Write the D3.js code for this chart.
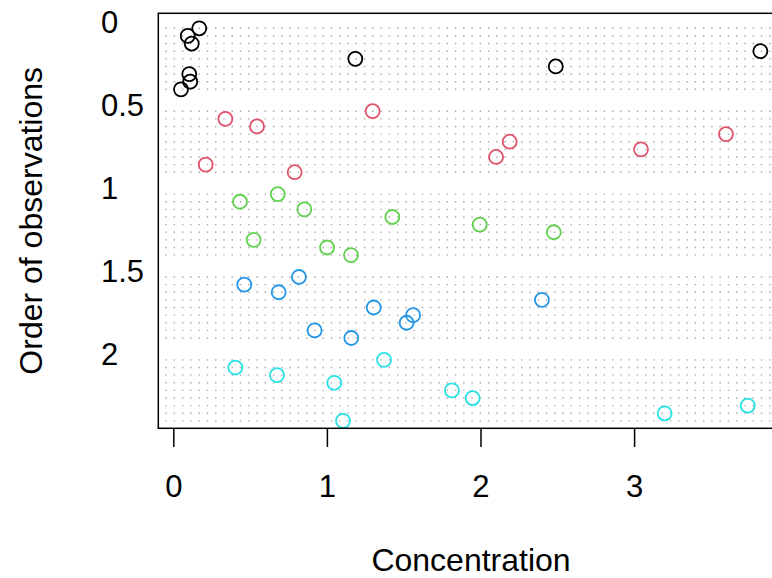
<!DOCTYPE html>
<html>
<head>
<meta charset="utf-8">
<script src="https://cdn.jsdelivr.net/npm/d3@7"></script>
<style>
  html, body { margin: 0; padding: 0; background: #fff; }
  svg { display: block; }
  text { font-family: "Liberation Sans", Arial, Helvetica, sans-serif; fill: #000; }
</style>
</head>
<body>
<svg id="chart" width="772" height="578"></svg>
<script>
// ---- data ----
const groups = ["1", "2", "3", "4", "5"];
const groupColors = ["#000000", "#DF536B", "#61D04F", "#2297E6", "#28E2E5"];
const groupStarts = [0, 0.5, 1, 1.5, 2];
const rowPositions = [0.038, 0.084, 0.130, 0.176, 0.222, 0.268, 0.314, 0.360, 0.406];
const conc1 = [0.169, 0.094, 0.120, 3.822, 1.185, 2.490, 0.104, 0.110, 0.050];
const conc2 = [1.298, 0.339, 0.545, 3.598, 2.190, 3.045, 2.101, 0.211, 0.790];
const conc3 = [0.680, 0.434, 0.853, 1.426, 1.995, 2.477, 0.523, 1.001, 1.157];
const conc4 = [0.818, 0.462, 0.686, 2.400, 1.305, 1.561, 1.519, 0.920, 1.159];
const conc5 = [1.372, 0.404, 0.675, 1.048, 1.814, 1.949, 3.740, 3.199, 1.105];
const xTicks = [0, 1, 2, 3];
const yTicks = [0, 0.5, 1, 1.5, 2];
const xTitle = "Concentration";
const yTitle = "Order of observations";

(function () {
const series = [conc1, conc2, conc3, conc4, conc5];
const points = [];
series.forEach((vals, g) => vals.forEach((v, r) => points.push({ g, x: v, y: groupStarts[g] + rowPositions[r] })));
const gridRows = [];
groupStarts.forEach(s => rowPositions.forEach(p => gridRows.push(s + p)));

// ---- layout ----
const svg = d3.select("#chart");
const pL = 158.3, pR = 783.7, pT = 13.3, pB = 428.3;
const x = d3.scaleLinear().domain([-0.0977, 3.974]).range([pL, pR]);
const y = d3.scaleLinear().domain([-0.0525, 2.4505]).range([pT, pB]);
const FS = 31, FT = 32;

// dotted grid
svg.append("g").selectAll("line").data(gridRows).join("line")
  .attr("x1", 165.4).attr("x2", pR)
  .attr("y1", d => y(d)).attr("y2", d => y(d))
  .attr("stroke", "#a8a8a8").attr("stroke-width", 1.4)
  .attr("stroke-dasharray", "1.4,6.87");

// points
svg.append("g").selectAll("circle").data(points).join("circle")
  .attr("cx", d => x(d.x)).attr("cy", d => y(d.y)).attr("r", 7.0)
  .attr("fill", "none").attr("stroke", d => groupColors[d.g]).attr("stroke-width", 1.8);

// box
svg.append("rect").attr("x", pL).attr("y", pT)
  .attr("width", pR - pL).attr("height", pB - pT)
  .attr("fill", "none").attr("stroke", "#000").attr("stroke-width", 1.5);

// x axis
const xa = svg.append("g").attr("transform", `translate(0,${pB})`)
  .call(d3.axisBottom(x).tickValues(xTicks).tickFormat(d3.format("d")).tickSize(18.7).tickPadding(27.5));
xa.select(".domain").remove();
xa.selectAll(".tick line").attr("stroke", "#000").attr("stroke-width", 1.5);
xa.selectAll("text").attr("font-size", FS).attr("font-family", null);

// y axis labels (left aligned, no ticks)
const ya = svg.append("g").attr("transform", `translate(${pL},0)`)
  .call(d3.axisLeft(y).tickValues(yTicks).tickFormat(d => String(d)).tickSize(0));
ya.select(".domain").remove();
ya.selectAll(".tick line").remove();
ya.selectAll("text").attr("font-size", FS).attr("font-family", null)
  .attr("text-anchor", "start").attr("x", 101 - pL).attr("dy", "0.35em");

// titles
svg.append("text").attr("x", (pL + pR) / 2).attr("y", 570.5)
  .attr("text-anchor", "middle").attr("font-size", FT).text(xTitle);
svg.append("text").attr("transform", `translate(42,${(pT + pB) / 2}) rotate(-90)`)
  .attr("text-anchor", "middle").attr("font-size", FT).text(yTitle);
})();
</script>
</body>
</html>
